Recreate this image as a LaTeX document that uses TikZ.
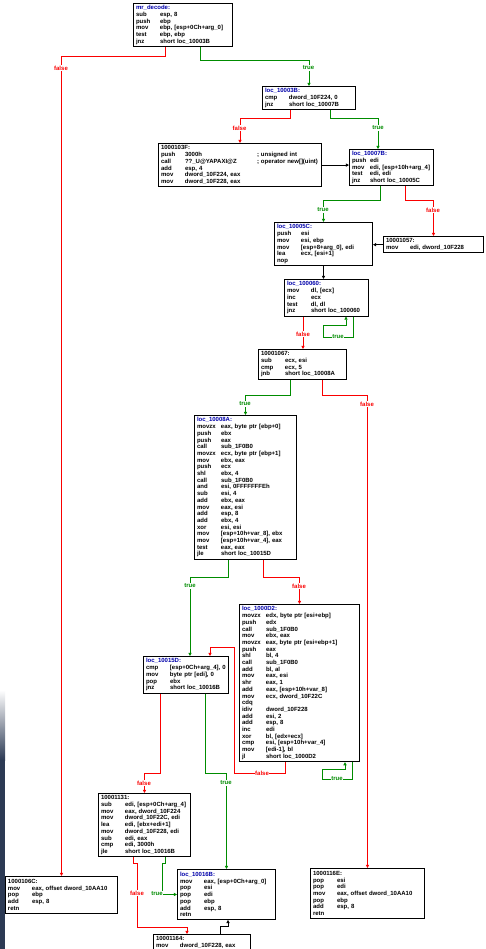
\documentclass[tikz,border=0pt]{standalone}
\usepackage{fontspec}
\newfontfamily\idafont{Liberation Sans}
\usetikzlibrary{arrows.meta}
\definecolor{edgegreen}{RGB}{0,140,0}
\definecolor{edgered}{RGB}{250,0,0}
\definecolor{locblue}{RGB}{0,0,170}
\definecolor{panel}{RGB}{44,58,84}
\newcommand\blockfont{\idafont\bfseries\fontsize{6}{6.7}\selectfont}
\newlength\opw
\setlength\opw{24pt}
\newlength\argw
\newcommand\blab[1]{\hbox{\color{locblue}#1:}\par}
\newcommand\baddr[1]{\hbox{#1:}\par}
\newcommand\insn[2]{\hbox{\makebox[\opw][l]{#1}#2}\par}
\newcommand\insc[3]{\hbox{\makebox[\opw][l]{#1}\makebox[\argw][l]{#2}#3}\par}

\begin{document}
\begin{tikzpicture}[x=1pt,y=-1pt,
  blk/.style={draw=black, line width=1pt, fill=white, anchor=north west,
              inner xsep=2.5pt, inner ysep=0pt, align=left, font=\blockfont},
  edge/.style={line width=0.9pt, -{Triangle[length=3.2pt,width=3.2pt]}},
  tedge/.style={edge, draw=edgegreen},
  fedge/.style={edge, draw=edgered},
  uedge/.style={edge, draw=black},
  tlab/.style={font=\blockfont, text=edgegreen, fill=white, inner sep=0.6pt},
  flab/.style={font=\blockfont, text=edgered, fill=white, inner sep=0.6pt}]
\useasboundingbox (0,0) rectangle (485,949);
\fill[white] (0,0) rectangle (485,949);
\clip (0,0) rectangle (485,949);

% window edge on the left
\shade[top color=white, bottom color=panel] (0,690) rectangle (5,760);
\fill[panel] (0,760) rectangle (5,949);

% ---------- basic blocks ----------
\node[blk, minimum width=99pt, minimum height=43.2pt, text width=94pt] (A) at (133,3) {%
  \blab{mr\_decode}
  \insn{sub}{esp, 8}
  \insn{push}{ebp}
  \insn{mov}{ebp, [esp+0Ch+arg\_0]}
  \insn{test}{ebp, ebp}
  \insn{jnz}{short loc\_10003B}};

\node[blk, minimum width=93pt, minimum height=23.1pt, text width=88pt] (B) at (262,86) {%
  \blab{loc\_10003B}
  \insn{cmp}{dword\_10F224, 0}
  \insn{jnz}{short loc\_10007B}};

\node[blk, minimum width=163pt, minimum height=43.2pt, text width=158pt] (C) at (158,143) {%
  \setlength\argw{72pt}%
  \baddr{1000103F}
  \insc{push}{3000h}{; unsigned int}
  \insc{call}{??\_U@YAPAXI@Z}{; operator new[](uint)}
  \insn{add}{esp, 4}
  \insn{mov}{dword\_10F224, eax}
  \insn{mov}{dword\_10F228, eax}};

\node[blk, minimum width=84pt, minimum height=36.5pt, text width=79pt] (D) at (349,149) {%
  \setlength\opw{18pt}%
  \blab{loc\_10007B}
  \insn{push}{edi}
  \insn{mov}{edi, [esp+10h+arg\_4]}
  \insn{test}{edi, edi}
  \insn{jnz}{short loc\_10005C}};

\node[blk, minimum width=98pt, minimum height=43.2pt, text width=93pt] (E) at (274,222) {%
  \blab{loc\_10005C}
  \insn{push}{esi}
  \insn{mov}{esi, ebp}
  \insn{mov}{[esp+8+arg\_0], edi}
  \insn{lea}{ecx, [esi+1]}
  \insn{nop}{}};

\node[blk, minimum width=100pt, minimum height=16.4pt, text width=95pt] (F) at (383,236) {%
  \baddr{10001057}
  \insn{mov}{edi, dword\_10F228}};

\node[blk, minimum width=84pt, minimum height=36.5pt, text width=79pt] (G) at (284,279) {%
  \blab{loc\_100060}
  \insn{mov}{dl, [ecx]}
  \insn{inc}{ecx}
  \insn{test}{dl, dl}
  \insn{jnz}{short loc\_100060}};

\node[blk, minimum width=88pt, minimum height=29.8pt, text width=83pt] (H) at (258,349) {%
  \baddr{10001067}
  \insn{sub}{ecx, esi}
  \insn{cmp}{ecx, 5}
  \insn{jnb}{short loc\_10008A}};

\node[blk, minimum width=102pt, minimum height=143.7pt, text width=97pt] (I) at (194,415) {%
  \blab{loc\_10008A}
  \insn{movzx}{eax, byte ptr [ebp+0]}
  \insn{push}{ebx}
  \insn{push}{eax}
  \insn{call}{sub\_1F0B0}
  \insn{movzx}{ecx, byte ptr [ebp+1]}
  \insn{mov}{ebx, eax}
  \insn{push}{ecx}
  \insn{shl}{ebx, 4}
  \insn{call}{sub\_1F0B0}
  \insn{and}{esi, 0FFFFFFFEh}
  \insn{sub}{esi, 4}
  \insn{add}{ebx, eax}
  \insn{mov}{eax, esi}
  \insn{add}{esp, 8}
  \insn{add}{ebx, 4}
  \insn{xor}{esi, esi}
  \insn{mov}{[esp+10h+var\_8], ebx}
  \insn{mov}{[esp+10h+var\_4], eax}
  \insn{test}{eax, eax}
  \insn{jle}{short loc\_10015D}};

\node[blk, minimum width=120pt, minimum height=157.1pt, text width=115pt] (J) at (239,604) {%
  \blab{loc\_1000D2}
  \insn{movzx}{edx, byte ptr [esi+ebp]}
  \insn{push}{edx}
  \insn{call}{sub\_1F0B0}
  \insn{mov}{ebx, eax}
  \insn{movzx}{eax, byte ptr [esi+ebp+1]}
  \insn{push}{eax}
  \insn{shl}{bl, 4}
  \insn{call}{sub\_1F0B0}
  \insn{add}{bl, al}
  \insn{mov}{eax, esi}
  \insn{shr}{eax, 1}
  \insn{add}{eax, [esp+10h+var\_8]}
  \insn{mov}{ecx, dword\_10F22C}
  \insn{cdq}{}
  \insn{idiv}{dword\_10F228}
  \insn{add}{esi, 2}
  \insn{add}{esp, 8}
  \insn{inc}{edi}
  \insn{xor}{bl, [edx+ecx]}
  \insn{cmp}{esi, [esp+10h+var\_4]}
  \insn{mov}{[edi-1], bl}
  \insn{jl}{short loc\_1000D2}};

\node[blk, minimum width=85pt, minimum height=36.5pt, text width=80pt] (K) at (143,656) {%
  \blab{loc\_10015D}
  \insn{cmp}{[esp+0Ch+arg\_4], 0}
  \insn{mov}{byte ptr [edi], 0}
  \insn{pop}{ebx}
  \insn{jnz}{short loc\_10016B}};

\node[blk, minimum width=92pt, minimum height=63.3pt, text width=87pt] (L) at (98,793) {%
  \baddr{10001131}
  \insn{sub}{edi, [esp+0Ch+arg\_4]}
  \insn{mov}{eax, dword\_10F224}
  \insn{mov}{dword\_10F22C, edi}
  \insn{lea}{edi, [ebx+edi+1]}
  \insn{mov}{dword\_10F228, edi}
  \insn{sub}{edi, eax}
  \insn{cmp}{edi, 3000h}
  \insn{jle}{short loc\_10016B}};

\node[blk, minimum width=112pt, minimum height=36.5pt, text width=107pt] (M) at (5,876) {%
  \baddr{1000106C}
  \insn{mov}{eax, offset dword\_10AA10}
  \insn{pop}{ebp}
  \insn{add}{esp, 8}
  \insn{retn}{}};

\node[blk, minimum width=98pt, minimum height=49.9pt, text width=93pt] (N) at (177,869) {%
  \blab{loc\_10016B}
  \insn{mov}{eax, [esp+0Ch+arg\_0]}
  \insn{pop}{esi}
  \insn{pop}{edi}
  \insn{pop}{ebp}
  \insn{add}{esp, 8}
  \insn{retn}{}};

\node[blk, minimum width=114pt, minimum height=49.9pt, text width=109pt] (O) at (310,868) {%
  \baddr{1000116E}
  \insn{pop}{esi}
  \insn{pop}{edi}
  \insn{mov}{eax, offset dword\_10AA10}
  \insn{pop}{ebp}
  \insn{add}{esp, 8}
  \insn{retn}{}};

\node[blk, minimum width=97pt, minimum height=16.4pt, text width=92pt] (P) at (153,934) {%
  \baddr{10001164}
  \insn{mov}{dword\_10F228, eax}};

% ---------- control-flow edges ----------
\draw[fedge] (165,0 |- A.south) -- (165,56) -| (M.north);
\draw[tedge] (200,0 |- A.south) -- (200,60) -| (B.north);
\draw[fedge] (290,0 |- B.south) -- (290,118) -| (C.north);
\draw[tedge] (330,0 |- B.south) -- (330,118) -| (378,0 |- D.north);
\draw[uedge] (C.east) -- (C.east -| D.west);
\draw[tedge] (380,0 |- D.south) -- (380,200) -| (E.north);
\draw[fedge] (405,0 |- D.south) -- (405,200) -| (F.north);
\draw[uedge] (F.west) -- (F.west -| E.east);
\draw[uedge] (E.south) -- (E.south |- G.north);
\draw[fedge] (303,0 |- G.south) -- (303,0 |- H.north);
\draw[tedge] (353,0 |- G.south) -- (353,337) -| (323,325) -| (346,0 |- G.south);
\draw[tedge] (290,0 |- H.south) -- (290,395) -| (I.north);
\draw[fedge] (322,0 |- H.south) -- (322,395) -| (O.north);
\draw[tedge] (228,0 |- I.south) -- (228,577) -| (190,0 |- K.north);
\draw[fedge] (263,0 |- I.south) -- (263,577) -| (J.north);
\draw[fedge] (285,0 |- J.south) -- (285,773) -| (234,647) -| (210,0 |- K.north);
\draw[tedge] (352,0 |- J.south) -- (352,779) -| (322,769) -| (345,0 |- J.south);
\draw[fedge] (160,0 |- K.south) -- (160,773) -| (L.north);
\draw[tedge] (205,0 |- K.south) -- (205,773) -| (N.north);
\draw[fedge] (133,0 |- L.south) -- (133,863) -- (137,863) -- (137,927) -| (187,0 |- P.north);
\draw[tedge] (165,0 |- L.south) -- (165,863) -- (162,863) -- (162,0 |- N.west) -- (N.west);
\draw[uedge] (220,0 |- P.north) -- (220,926) -- (228,926) -- (228,0 |- N.south);

% ---------- edge labels ----------
\node[flab] (fa) at (61,68) {false};
\node[tlab] (ta) at (308.5,68) {true};
\node[flab] (fb) at (239.5,128) {false};
\node[tlab] (tb) at (378,128) {true};
\node[tlab] (td) at (323,210) {true};
\node[flab] (fd) at (433,210) {false};
\node[flab] (fg) at (303,334) {false};
\node[tlab] (tg) at (338,337) {true};
\node[tlab] (th) at (245,404) {true};
\node[flab] (fh) at (367,404) {false};
\node[tlab] (ti) at (190,586) {true};
\node[flab] (fi) at (299,586) {false};
\node[flab] (fj) at (262,773) {false};
\node[tlab] (tj) at (337,779) {true};
\node[flab] (fk) at (144,783) {false};
\node[tlab] (tk) at (226,783) {true};
\node[flab] (fl) at (137,893) {false};
\node[tlab] (tl) at (157,894) {true};
\end{tikzpicture}
\end{document}
